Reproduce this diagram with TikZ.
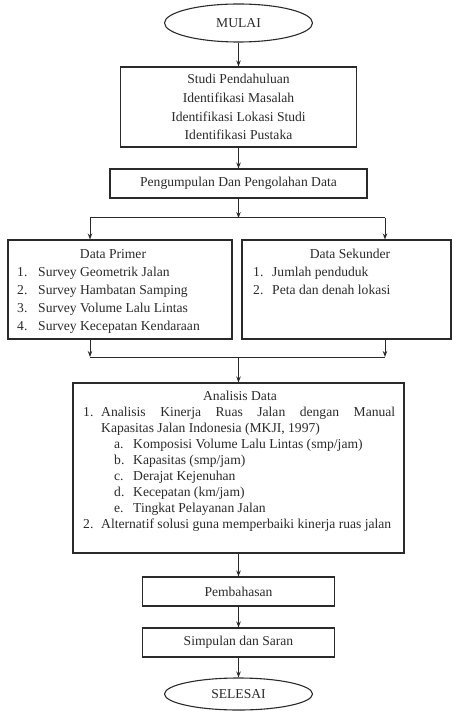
\documentclass[tikz,border=0pt]{standalone}
\usepackage{fontspec}
\setmainfont{Liberation Serif}
\usetikzlibrary{arrows.meta,shapes.geometric}
\definecolor{ink}{HTML}{2A2A2A}
\begin{document}
\begin{tikzpicture}[x=1pt,y=-1pt,
  box/.style={draw=ink,line width=1.1pt,rectangle,inner sep=0pt,text=ink,
    font=\fontsize{13.6}{18.7}\selectfont,align=center},
  oval/.style={draw=ink,line width=1.1pt,ellipse,inner sep=0pt,text=ink,
    font=\fontsize{13.6}{16}\selectfont},
  txt/.style={text=ink,font=\fontsize{13.6}{16}\selectfont,inner sep=0pt},
  arr/.style={draw=ink,line width=1pt,-{Stealth[length=6pt,width=4.5pt]}},
  ln/.style={draw=ink,line width=1pt}]
\useasboundingbox (0,0) rectangle (453,711);

% nodes
\node[oval,minimum width=148pt,minimum height=38pt] (mulai) at (238.5,23) {MULAI};
\node[box,minimum width=236pt,minimum height=80pt] (studi) at (238.5,107)
  {Studi Pendahuluan\\Identifikasi Masalah\\Identifikasi Lokasi Studi\\Identifikasi Pustaka};
\node[box,minimum width=257pt,minimum height=29pt] (kumpul) at (238.5,183.5)
  {Pengumpulan Dan Pengolahan Data};
\node[box,minimum width=224pt,minimum height=99pt] (primer) at (120,289.5) {};
\node[box,minimum width=209pt,minimum height=99pt] (sekunder) at (346.5,289.5) {};
\node[box,minimum width=331pt,minimum height=170pt] (analisis) at (238.5,468) {};
\node[box,minimum width=192pt,minimum height=29pt] (bahas) at (238.5,591.5) {Pembahasan};
\node[box,minimum width=192pt,minimum height=29pt] (simpul) at (238.5,642.5) {Simpulan dan Saran};
\node[oval,minimum width=148pt,minimum height=32pt] (selesai) at (238.5,694) {SELESAI};

% texts: Data Primer
\node[txt,anchor=base] (ptitle) at (113,258) {Data Primer};
\node[txt,anchor=base west] (pn1) at (17,276) {1.};
\node[txt,anchor=base west] (pt1) at (38,276) {Survey Geometrik Jalan};
\node[txt,anchor=base west] (pn2) at (17,294) {2.};
\node[txt,anchor=base west] (pt2) at (38,294) {Survey Hambatan Samping};
\node[txt,anchor=base west] (pn3) at (17,312) {3.};
\node[txt,anchor=base west] (pt3) at (38,312) {Survey Volume Lalu Lintas};
\node[txt,anchor=base west] (pn4) at (17,330) {4.};
\node[txt,anchor=base west] (pt4) at (38,330) {Survey Kecepatan Kendaraan};

% texts: Data Sekunder
\node[txt,anchor=base] (stitle) at (350,258) {Data Sekunder};
\node[txt,anchor=base west] (sn1) at (253,276) {1.};
\node[txt,anchor=base west] (st1) at (272,276) {Jumlah penduduk};
\node[txt,anchor=base west] (sn2) at (253,294) {2.};
\node[txt,anchor=base west] (st2) at (272,294) {Peta dan denah lokasi};

% texts: Analisis Data
\node[txt,anchor=base] (atitle) at (240,400) {Analisis Data};
\node[txt,anchor=base west] (an1) at (83,416) {1.};
\node[txt,anchor=base west] (at1) at (101,416) {\makebox[294pt][s]{Analisis Kinerja Ruas Jalan dengan Manual}};
\node[txt,anchor=base west] (at1b) at (101,432) {Kapasitas Jalan Indonesia (MKJI, 1997)};
\node[txt,anchor=base west] (ana) at (114,448) {a.};
\node[txt,anchor=base west] (ata) at (133,448) {Komposisi Volume Lalu Lintas (smp/jam)};
\node[txt,anchor=base west] (anb) at (114,464) {b.};
\node[txt,anchor=base west] (atb) at (133,464) {Kapasitas (smp/jam)};
\node[txt,anchor=base west] (anc) at (114,480) {c.};
\node[txt,anchor=base west] (atc) at (133,480) {Derajat Kejenuhan};
\node[txt,anchor=base west] (and) at (114,496) {d.};
\node[txt,anchor=base west] (atd) at (133,496) {Kecepatan (km/jam)};
\node[txt,anchor=base west] (ane) at (114,512) {e.};
\node[txt,anchor=base west] (ate) at (133,512) {Tingkat Pelayanan Jalan};
\node[txt,anchor=base west] (an2) at (83,528) {2.};
\node[txt,anchor=base west] (at2) at (101,528) {Alternatif solusi guna memperbaiki kinerja ruas jalan};

% junction coordinates
\coordinate (jm) at (238.5,218);
\coordinate (jl) at (90,218);
\coordinate (jr) at (385,218);
\coordinate (kl) at (90,357);
\coordinate (kr) at (385,357);
\coordinate (km) at (238.5,357);

% connectors
\draw[arr] (mulai) -- (studi);
\draw[arr] (studi) -- (kumpul);
\draw[arr] (kumpul) -- (jm);
\draw[ln] (jl) -- (jr);
\draw[arr] (jl) -- (jl |- primer.north);
\draw[arr] (jr) -- (jr |- sekunder.north);
\draw[arr] (jl |- primer.south) -- (kl);
\draw[arr] (jr |- sekunder.south) -- (kr);
\draw[ln] (kl) -- (kr);
\draw[arr] (km) -- (analisis);
\draw[arr] (analisis) -- (bahas);
\draw[arr] (bahas) -- (simpul);
\draw[arr] (simpul) -- (selesai);
\end{tikzpicture}
\end{document}
